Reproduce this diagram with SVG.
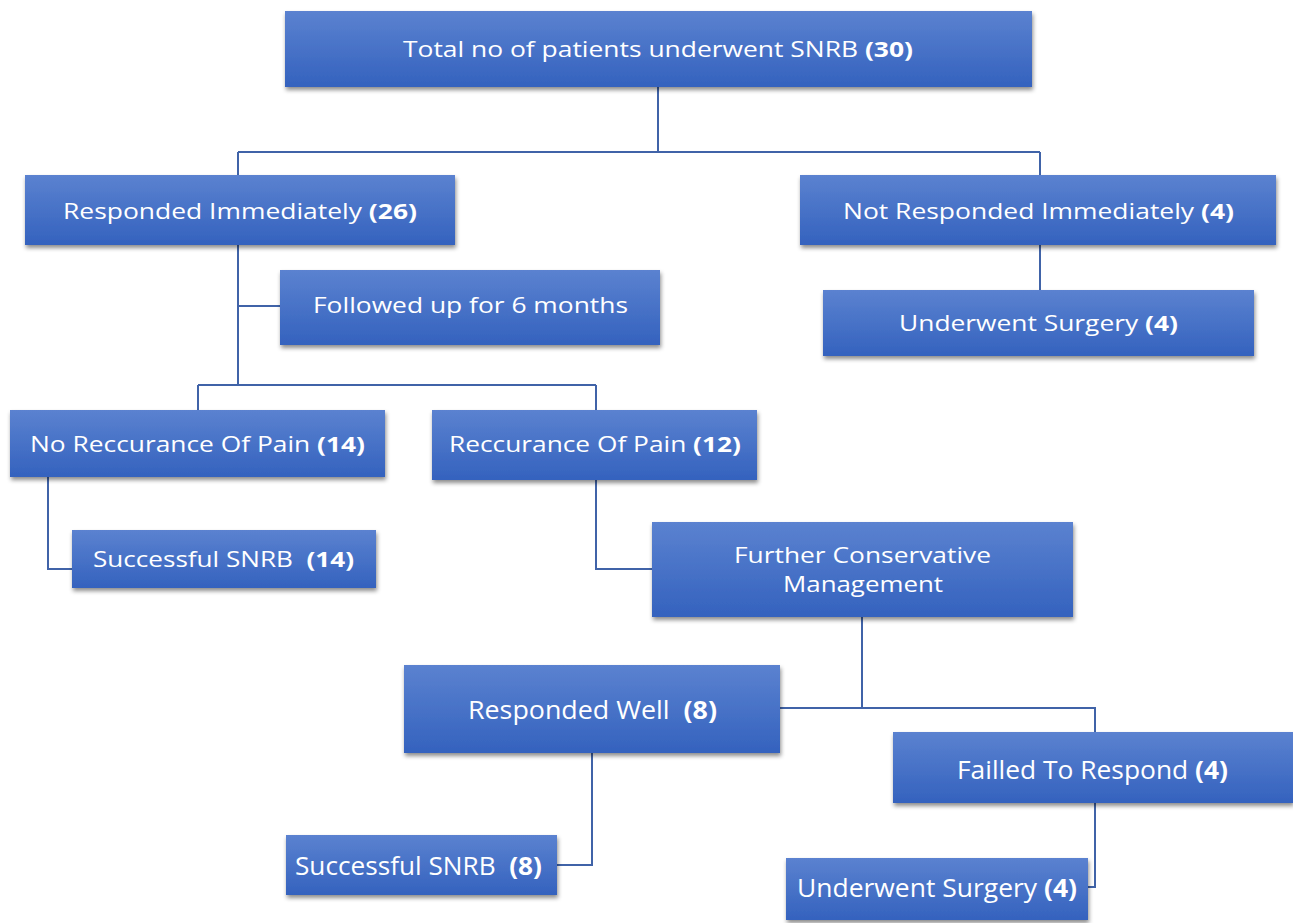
<svg xmlns="http://www.w3.org/2000/svg" width="1293" height="923" viewBox="0 0 1293 923">
<defs>
<linearGradient id="g" x1="0" y1="0" x2="0" y2="1">
<stop offset="0" stop-color="#5b82d0"/>
<stop offset="1" stop-color="#3462be"/>
</linearGradient>
<filter id="sh" x="-5%" y="-10%" width="110%" height="130%">
<feDropShadow dx="1" dy="3" stdDeviation="2" flood-color="#000" flood-opacity="0.45"/>
</filter>
</defs>
<style>
.box{fill:url(#g);filter:url(#sh);}
.t{font-family:"Open Sans","Liberation Sans",sans-serif;font-size:22px;fill:#ffffff;text-anchor:start;white-space:pre;}
.l{font-size:25px;}
.b{font-weight:bold;}
.c{fill:none;stroke:#4063a8;stroke-width:2;}
</style>
<g id="connectors">
<path class="c" d="M658 87V152M238 152H1040M238 152V175M1040 152V175"/>
<path class="c" d="M1040 245V290"/>
<path class="c" d="M238 245V385M238 306H280"/>
<path class="c" d="M198 385H596M198 385V410M596 385V410"/>
<path class="c" d="M48 477V569H72"/>
<path class="c" d="M596 480V569H652"/>
<path class="c" d="M862 617V708M780 708H1095V732"/>
<path class="c" d="M592 753V865H557"/>
<path class="c" d="M1095 803V887H1088"/>
</g>
<g id="n1"><rect class="box" x="285" y="11" width="747" height="76"/>
<text class="t" x="403" y="57" textLength="510" lengthAdjust="spacingAndGlyphs">Total no of patients underwent SNRB <tspan class="b">(30)</tspan></text></g>
<g id="n2"><rect class="box" x="25" y="175" width="430" height="70"/>
<text class="t" x="63" y="219" textLength="354" lengthAdjust="spacingAndGlyphs">Responded Immediately <tspan class="b">(26)</tspan></text></g>
<g id="n3"><rect class="box" x="800" y="175" width="476" height="70"/>
<text class="t" x="843" y="219" textLength="391" lengthAdjust="spacingAndGlyphs">Not Responded Immediately <tspan class="b">(4)</tspan></text></g>
<g id="n4"><rect class="box" x="280" y="270" width="380" height="75"/>
<text class="t" x="313" y="313" textLength="315" lengthAdjust="spacingAndGlyphs">Followed up for 6 months</text></g>
<g id="n5"><rect class="box" x="823" y="290" width="431" height="66"/>
<text class="t" x="899" y="331" textLength="279" lengthAdjust="spacingAndGlyphs">Underwent Surgery <tspan class="b">(4)</tspan></text></g>
<g id="n6"><rect class="box" x="10" y="410" width="375" height="67"/>
<text class="t" x="30" y="452" textLength="335" lengthAdjust="spacingAndGlyphs">No Reccurance Of Pain <tspan class="b">(14)</tspan></text></g>
<g id="n7"><rect class="box" x="432" y="410" width="325" height="70"/>
<text class="t" x="449" y="452" textLength="292" lengthAdjust="spacingAndGlyphs">Reccurance Of Pain <tspan class="b">(12)</tspan></text></g>
<g id="n8"><rect class="box" x="72" y="530" width="304" height="58"/>
<text class="t" x="93" y="567" textLength="261" lengthAdjust="spacingAndGlyphs">Successful SNRB  <tspan class="b">(14)</tspan></text></g>
<g id="n9"><rect class="box" x="652" y="522" width="421" height="95"/>
<text class="t" x="734" y="563" textLength="257" lengthAdjust="spacingAndGlyphs">Further Conservative</text>
<text class="t" x="783" y="592" textLength="160" lengthAdjust="spacingAndGlyphs">Management</text></g>
<g id="n10"><rect class="box" x="404" y="665" width="376" height="88"/>
<text class="t l" x="468" y="719" textLength="249" lengthAdjust="spacingAndGlyphs">Responded Well  <tspan class="b">(8)</tspan></text></g>
<g id="n11"><rect class="box" x="893" y="732" width="400" height="71"/>
<text class="t l" x="957" y="779" textLength="271" lengthAdjust="spacingAndGlyphs">Failled To Respond <tspan class="b">(4)</tspan></text></g>
<g id="n12"><rect class="box" x="286" y="835" width="271" height="60"/>
<text class="t l" x="295" y="875" textLength="247" lengthAdjust="spacingAndGlyphs">Successful SNRB  <tspan class="b">(8)</tspan></text></g>
<g id="n13"><rect class="box" x="786" y="858" width="302" height="62"/>
<text class="t l" x="797" y="897" textLength="280" lengthAdjust="spacingAndGlyphs">Underwent Surgery <tspan class="b">(4)</tspan></text></g>
</svg>
